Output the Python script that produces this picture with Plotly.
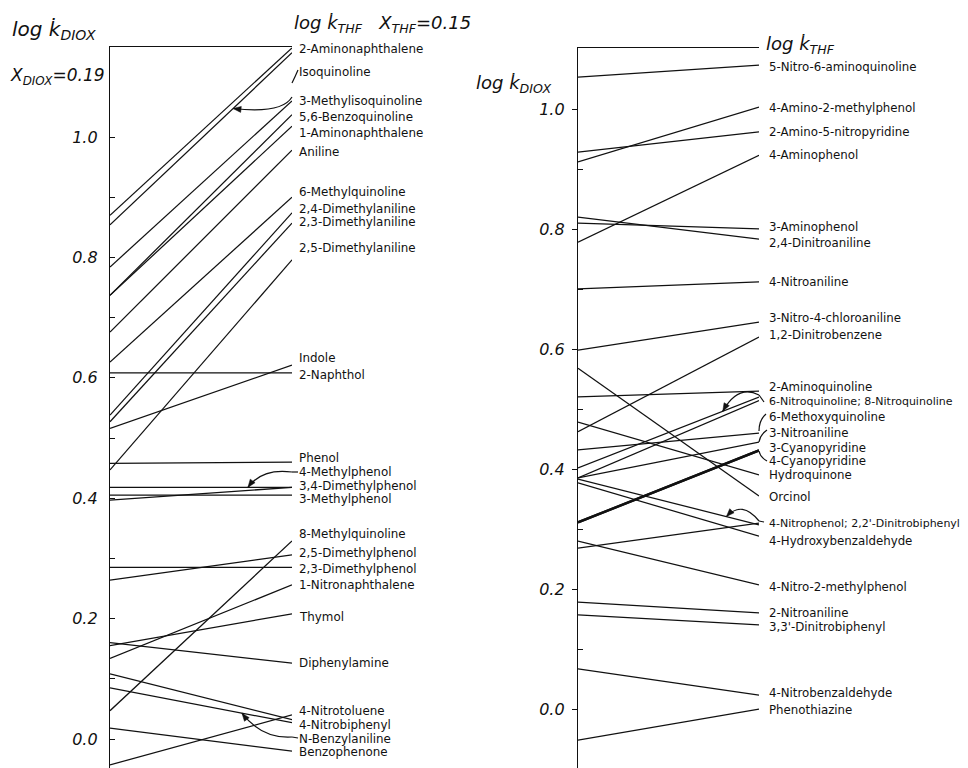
import plotly.graph_objects as go

FIG_W, FIG_H = 968, 768

# ---------------- left panel: log k' in dioxane (x=0.19) vs THF (x=0.15) ----------------
left_compounds = [
    "2-Aminonaphthalene", "Isoquinoline", "3-Methylisoquinoline", "5,6-Benzoquinoline",
    "1-Aminonaphthalene", "Aniline", "6-Methylquinoline", "2,4-Dimethylaniline",
    "2,3-Dimethylaniline", "2,5-Dimethylaniline", "Indole", "2-Naphthol", "Phenol",
    "4-Methylphenol", "3,4-Dimethylphenol", "3-Methylphenol", "8-Methylquinoline",
    "2,5-Dimethylphenol", "2,3-Dimethylphenol", "1-Nitronaphthalene", "Thymol",
    "Diphenylamine", "4-Nitrotoluene", "4-Nitrobiphenyl", "N-Benzylaniline", "Benzophenone",
]
left_diox = [0.870, 0.854, 0.784, 0.737, 0.737, 0.676, 0.626, 0.538, 0.527, 0.447,
             0.516, 0.608, 0.458, 0.418, 0.397, 0.405, 0.047, 0.264, 0.285, 0.134,
             0.155, 0.160, -0.043, 0.108, 0.085, 0.018]
left_thf = [1.148, 1.140, 1.060, 1.037, 1.018, 0.978, 0.900, 0.874, 0.857, 0.796,
            0.621, 0.608, 0.460, 0.418, 0.418, 0.405, 0.329, 0.306, 0.285, 0.256,
            0.208, 0.126, 0.040, 0.032, 0.027, -0.020]
left_labels = left_compounds
left_label_y = [1.146, 1.108, 1.060, 1.033, 1.007, 0.975, 0.909, 0.880, 0.859, 0.816,
                0.633, 0.605, 0.467, 0.443, 0.420, 0.399, 0.341, 0.309, 0.282, 0.256,
                0.203, 0.126, 0.047, 0.023, 0.000, -0.022]

# ---------------- right panel ----------------
right_compounds = [
    "5-Nitro-6-aminoquinoline", "4-Amino-2-methylphenol", "2-Amino-5-nitropyridine",
    "4-Aminophenol", "3-Aminophenol", "2,4-Dinitroaniline", "4-Nitroaniline",
    "3-Nitro-4-chloroaniline", "1,2-Dinitrobenzene", "2-Aminoquinoline",
    "6-Nitroquinoline", "8-Nitroquinoline", "6-Methoxyquinoline", "3-Nitroaniline",
    "3-Cyanopyridine", "4-Cyanopyridine", "Hydroquinone", "Orcinol", "4-Nitrophenol",
    "2,2'-Dinitrobiphenyl", "4-Hydroxybenzaldehyde", "4-Nitro-2-methylphenol",
    "2-Nitroaniline", "3,3'-Dinitrobiphenyl", "4-Nitrobenzaldehyde", "Phenothiazine",
]
right_diox = [1.053, 0.912, 0.928, 0.778, 0.810, 0.820, 0.700, 0.598, 0.462, 0.520,
              0.402, 0.385, 0.432, 0.385, 0.311, 0.311, 0.478, 0.568, 0.268,
              0.383, 0.377, 0.280, 0.178, 0.157, 0.067, -0.052]
right_thf = [1.073, 1.003, 0.962, 0.923, 0.800, 0.783, 0.712, 0.645, 0.620, 0.530,
             0.520, 0.514, 0.460, 0.445, 0.431, 0.431, 0.390, 0.355, 0.310,
             0.307, 0.288, 0.207, 0.160, 0.140, 0.023, 0.000]
right_labels = [
    "5-Nitro-6-aminoquinoline", "4-Amino-2-methylphenol", "2-Amino-5-nitropyridine",
    "4-Aminophenol", "3-Aminophenol", "2,4-Dinitroaniline", "4-Nitroaniline",
    "3-Nitro-4-chloroaniline", "1,2-Dinitrobenzene", "2-Aminoquinoline",
    "6-Nitroquinoline; 8-Nitroquinoline", "6-Methoxyquinoline", "3-Nitroaniline",
    "3-Cyanopyridine", "4-Cyanopyridine", "Hydroquinone", "Orcinol",
    "4-Nitrophenol; 2,2'-Dinitrobiphenyl", "4-Hydroxybenzaldehyde",
    "4-Nitro-2-methylphenol", "2-Nitroaniline", "3,3'-Dinitrobiphenyl",
    "4-Nitrobenzaldehyde", "Phenothiazine",
]
right_label_y = [1.070, 1.002, 0.962, 0.923, 0.803, 0.777, 0.712, 0.652, 0.623, 0.537,
                 0.512, 0.487, 0.460, 0.435, 0.413, 0.390, 0.353, 0.310, 0.280,
                 0.203, 0.160, 0.137, 0.027, -0.002]

major_ticks = [0.0, 0.2, 0.4, 0.6, 0.8, 1.0]
major_text = ["<i>0.0</i>", "<i>0.2</i>", "<i>0.4</i>", "<i>0.6</i>", "<i>0.8</i>", "<i>1.0</i>"]
minor_ticks = [0.1, 0.3, 0.5, 0.7, 0.9]

# ---------------- styling ----------------
PANELS = {
    "L": dict(x0=110, x1=292, top=47, zero=739, scale=602, xa="x", ya="y"),
    "R": dict(x0=578, x1=759, top=48, zero=709, scale=600, xa="x2", ya="y2"),
}
INK = "#111111"
FONT = "DejaVu Sans"
THIN, BOLD = 1.25, 2.4
bold_lines = {"3-Cyanopyridine", "4-Cyanopyridine"}
long_labels = {"6-Nitroquinoline; 8-Nitroquinoline", "4-Nitrophenol; 2,2'-Dinitrobiphenyl"}


def yrange(p):
    P = PANELS[p]
    return [(P["zero"] - FIG_H) / P["scale"], (P["zero"] - P["top"]) / P["scale"]]


def to_px(p, frac, v):
    P = PANELS[p]
    return P["x0"] + frac * (P["x1"] - P["x0"]), P["zero"] - P["scale"] * v


def paper(x, y):
    return x / FIG_W, 1 - y / FIG_H


fig = go.Figure()

# connecting lines between the two solvent scales
for p, names, a, b in (("L", left_compounds, left_diox, left_thf),
                       ("R", right_compounds, right_diox, right_thf)):
    for n, d, t in zip(names, a, b):
        fig.add_trace(go.Scatter(
            x=[0, 1], y=[d, t], mode="lines", name=n,
            line=dict(color=INK, width=BOLD if n in bold_lines else THIN),
            xaxis=PANELS[p]["xa"], yaxis=PANELS[p]["ya"],
            showlegend=False, hoverinfo="name+y",
        ))

annotations = []
shapes = []

# compound labels to the right of each THF scale
for p, labels, ys, size, gap in (("L", left_labels, left_label_y, 11.9, 5),
                                  ("R", right_labels, right_label_y, 11.8, 8)):
    P = PANELS[p]
    for txt, yv in zip(labels, ys):
        annotations.append(dict(
            text=txt, x=(P["x1"] + gap) / FIG_W, xref="paper", y=yv, yref=P["ya"],
            xanchor="left", yanchor="middle", showarrow=False,
            font=dict(family=FONT, size=11.0 if txt in long_labels else size, color=INK),
        ))


# scale headings
def heading(text, x, y, size):
    xp, yp = paper(x, y)
    annotations.append(dict(text=text, x=xp, y=yp, xref="paper", yref="paper",
                            xanchor="left", yanchor="middle", showarrow=False,
                            font=dict(family=FONT, size=size, color=INK)))


heading("<i>log k\u0307<sub>DIOX</sub></i>", 10, 30, 20)
heading("<i>X<sub>DIOX</sub>=0.19</i>", 8, 76, 17)
heading("<i>log k\u0307<sub>THF</sub>   X<sub>THF</sub>=0.15</i>", 292, 24, 18)
heading("<i>log k\u0307<sub>DIOX</sub></i>", 474, 84, 18)
heading("<i>log k\u0307<sub>THF</sub></i>", 764, 45, 18)


# curved pointers from a label to its line
def curve(points_px, width=1.2):
    (x0, y0), (cx, cy), (x1, y1) = [paper(*pt) for pt in points_px]
    shapes.append(dict(type="path", xref="paper", yref="paper",
                       path=f"M {x0},{y0} Q {cx},{cy} {x1},{y1}",
                       line=dict(color=INK, width=width)))


def arrowhead(tip, toward, length=8, half=3):
    dx, dy = toward[0] - tip[0], toward[1] - tip[1]
    norm = (dx * dx + dy * dy) ** 0.5
    ux, uy = dx / norm, dy / norm
    bx, by = tip[0] + length * ux, tip[1] + length * uy
    pts = [tip, (bx - half * uy, by + half * ux), (bx + half * uy, by - half * ux)]
    pp = [paper(*pt) for pt in pts]
    shapes.append(dict(type="path", xref="paper", yref="paper",
                       path=f"M {pp[0][0]},{pp[0][1]} L {pp[1][0]},{pp[1][1]} "
                            f"L {pp[2][0]},{pp[2][1]} Z",
                       fillcolor=INK, line=dict(color=INK, width=0.5)))


def pointer(p, names, a, b, compound, frac, start_px, ctrl_px, lead_px=None):
    i = names.index(compound)
    tip = to_px(p, frac, a[i] + frac * (b[i] - a[i]))
    if lead_px is not None:
        (lx0, ly0), (lx1, ly1) = paper(*lead_px), paper(*start_px)
        shapes.append(dict(type="line", xref="paper", yref="paper",
                           x0=lx0, y0=ly0, x1=lx1, y1=ly1,
                           line=dict(color=INK, width=1.2)))
    curve([start_px, ctrl_px, tip])
    arrowhead(tip, ctrl_px)


pointer("L", left_compounds, left_diox, left_thf, "Isoquinoline", 0.676, (292, 97), (282, 114))
pointer("L", left_compounds, left_diox, left_thf, "4-Methylphenol", 0.758, (292, 472), (262, 468), (298, 472))
pointer("L", left_compounds, left_diox, left_thf, "N-Benzylaniline", 0.725, (292, 737), (262, 739), (298, 738))
pointer("R", right_compounds, right_diox, right_thf, "6-Nitroquinoline", 0.80, (759, 395), (738, 384), (764, 402))
pointer("R", right_compounds, right_diox, right_thf, "2,2'-Dinitrobiphenyl", 0.82, (759, 521), (742, 500), (764, 522))

# small hooks tying crowded labels to the scale
curve([(298, 70), (295, 77), (292, 83)])
curve([(766, 414), (759, 420), (759, 431)])
curve([(767, 430), (760, 435), (759, 442)])
curve([(767, 461), (760, 457), (759, 451)])

common_x = dict(range=[0, 1], side="top", showline=True, linecolor=INK, linewidth=1.3,
                ticks="", showticklabels=False, showgrid=False, zeroline=False, fixedrange=True)


def left_y(p, major_ticks_dir, standoff):
    P = PANELS[p]
    return dict(domain=[0, 1 - P["top"] / FIG_H], range=yrange(p), showline=True,
                linecolor=INK, linewidth=1.3, showgrid=False, zeroline=False,
                tickmode="array", tickvals=major_ticks, ticktext=major_text,
                ticks=major_ticks_dir, ticklen=5, tickwidth=1.2, tickcolor=INK,
                ticklabelstandoff=standoff,
                tickfont=dict(family=FONT, size=16, color=INK),
                minor=dict(tickmode="array", tickvals=minor_ticks, ticks="inside",
                           ticklen=5, tickwidth=1.2, tickcolor=INK, showgrid=False),
                fixedrange=True)


def right_y(p, overlay, anchor):
    return dict(overlaying=overlay, anchor=anchor, side="right", range=yrange(p),
                showline=True, linecolor=INK, linewidth=1.3, showgrid=False,
                zeroline=False, tickmode="array", tickvals=major_ticks + minor_ticks,
                ticks="inside", ticklen=5, tickwidth=1.2, tickcolor=INK,
                showticklabels=False, fixedrange=True)


fig.update_layout(
    width=FIG_W, height=FIG_H,
    margin=dict(l=0, r=0, t=0, b=0),
    paper_bgcolor="white", plot_bgcolor="white",
    xaxis=dict(domain=[PANELS["L"]["x0"] / FIG_W, PANELS["L"]["x1"] / FIG_W], anchor="y", **common_x),
    xaxis2=dict(domain=[PANELS["R"]["x0"] / FIG_W, PANELS["R"]["x1"] / FIG_W], anchor="y2", **common_x),
    yaxis=dict(anchor="x", **left_y("L", "inside", 8)),
    yaxis2=dict(anchor="x2", **left_y("R", "outside", 4)),
    yaxis3=right_y("L", "y", "x"),
    yaxis4=right_y("R", "y2", "x2"),
    annotations=annotations,
    shapes=shapes,
    showlegend=False,
)

fig.write_html("out.html")
